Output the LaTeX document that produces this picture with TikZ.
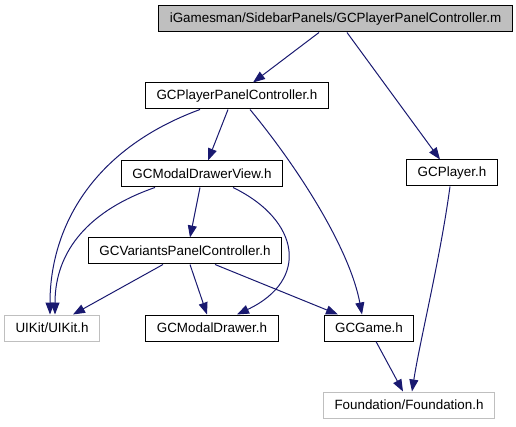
\documentclass[tikz,border=0pt]{standalone}
\usepackage{fontspec}
\setmainfont{Liberation Sans}
\usetikzlibrary{arrows.meta}
\usetikzlibrary{positioning}
\definecolor{edgeblue}{HTML}{191970}
\definecolor{boxgray}{HTML}{BFBFBF}

\begin{document}
\begin{tikzpicture}[x=1pt,y=-1pt,
		file/.style={draw=black,fill=white,font=\fontsize{13.4}{15}\selectfont,
			minimum height=26pt,inner xsep=11pt,line width=1pt},
		extfile/.style={file,draw=boxgray},
		mainfile/.style={file,fill=boxgray},
		dep/.style={draw=edgeblue,line width=1pt,-{Triangle[length=12pt,width=9pt]}}]
		\useasboundingbox (0,0) rectangle (516,427);
		
		% files
		\node[mainfile] (main) at (335.5,19) {iGamesman/SidebarPanels/GCPlayerPanelController.m};
		\node[file] (ppc) at (237,96) {GCPlayerPanelController.h};
		\node[file] (player) at (452,173) {GCPlayer.h};
		\node[file] (mdv) at (202,174) {GCModalDrawerView.h};
		\node[file] (gcv) at (185,251) {GCVariantsPanelController.h};
		\node[extfile] (uikit) at (52,328) {UIKit/UIKit.h};
		\node[file] (drawer) at (212,328) {GCModalDrawer.h};
		\node[file] (game) at (369,328) {GCGame.h};
		\node[extfile] (found) at (409,405) {Foundation/Foundation.h};
		
		% includes of the .m file
		\draw[dep] ([xshift=-16.5pt]main.south) -- ([xshift=16pt]ppc.north);
		\draw[dep] ([xshift=11.5pt]main.south) -- ([xshift=-12pt]player.north);
		
		% includes of GCPlayerPanelController.h
		\draw[dep] ([xshift=-37pt]ppc.south) .. controls (90,150) and (50,230) .. ([xshift=-2pt]uikit.north);
		\draw[dep] ([xshift=-9pt]ppc.south) -- ([xshift=6pt]mdv.north);
		\draw[dep] ([xshift=13pt]ppc.south) .. controls (300,170) and (350,250) .. ([xshift=-7pt]game.north);
		
		% includes of GCModalDrawerView.h
		\draw[dep] ([xshift=-47pt]mdv.south) .. controls (90,210) and (55,250) .. ([xshift=3pt]uikit.north);
		\draw[dep] ([xshift=-2pt]mdv.south) -- ([xshift=5pt]gcv.north);
		\draw[dep] ([xshift=31pt]mdv.south) .. controls (300,220) and (310,280) .. ([xshift=25pt]drawer.north);
		
		% includes of GCVariantsPanelController.h
		\draw[dep] ([xshift=-22pt]gcv.south) -- ([xshift=21pt]uikit.north);
		\draw[dep] ([xshift=5pt]gcv.south) -- ([xshift=-5pt]drawer.north);
		\draw[dep] ([xshift=30pt]gcv.south) -- ([xshift=-31pt]game.north);
		
		% Foundation
		\draw[dep] ([xshift=7pt]game.south) -- ([xshift=-6pt]found.north);
		\draw[dep] ([xshift=-2pt]player.south) .. controls (440,260) and (420,340) .. ([xshift=3pt]found.north);
	\end{tikzpicture}
\end{document}
